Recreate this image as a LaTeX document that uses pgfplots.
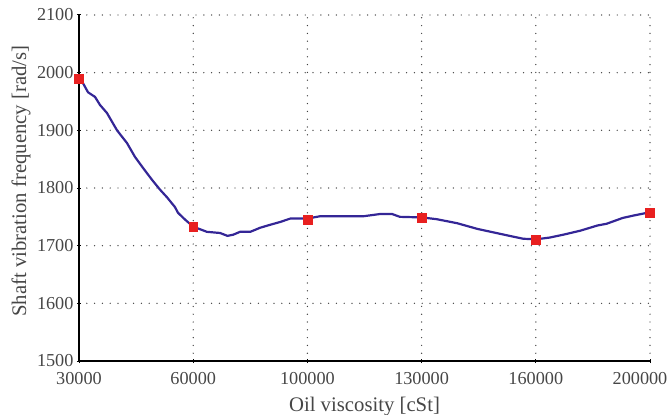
\documentclass[border=0pt]{standalone}
\usepackage{pgfplots}
\pgfplotsset{compat=1.18}
\usepackage{fontspec}
\setmainfont{Liberation Serif}
\definecolor{lineblue}{RGB}{52,38,150}
\definecolor{mred}{RGB}{232,32,32}
\definecolor{txt}{RGB}{70,70,70}
\begin{document}
\begin{tikzpicture}
\begin{axis}[
  scale only axis,
  width=571bp, height=346bp,
  xmin=0, xmax=5, ymin=1500, ymax=2100,
  xtick={0,1,2,3,4,5},
  xticklabels={30000,60000,100000,130000,160000,{\kern-20bp 200000}},
  ytick={1500,1600,1700,1800,1900,2000,2100},
  axis x line*=bottom, axis y line*=left,
  axis line style={-, black, line width=1.2pt},
  tick align=center, major tick length=4bp,
  tick style={black, line width=1pt},
  grid=major,
  major grid style={black!75, line width=1.4bp, line cap=round, dash pattern=on 0bp off 7.8bp},
  /pgf/number format/assume math mode=true,
  /pgf/number format/1000 sep={},
  ticklabel style={font=\fontsize{18.3}{20}\selectfont, text=txt},
  xticklabel style={yshift=-6bp},
  label style={font=\fontsize{20.8}{22}\selectfont, text=txt},
  xlabel={Oil viscosity [cSt]},
  ylabel={Shaft vibration frequency [rad/s]},
  xlabel style={at={(axis description cs:0.5,-0.1445)}, anchor=base},
  ylabel style={at={(axis description cs:-0.1016,0.52)}, anchor=center},
  clip=false,
]
\addplot[lineblue, line width=2.2pt, no marks] coordinates {
(0,1990) (0.026,1985) (0.079,1966) (0.14,1958) (0.184,1944) (0.245,1930)
(0.333,1900) (0.42,1878) (0.49,1854) (0.56,1835) (0.64,1814) (0.71,1797)
(0.77,1784) (0.84,1767) (0.867,1757) (0.93,1745) (1.0,1733) (1.12,1724)
(1.235,1722) (1.30,1717) (1.35,1719) (1.41,1724) (1.50,1724) (1.585,1731)
(1.67,1736) (1.76,1741) (1.85,1747) (2.0,1747) (2.11,1751) (2.29,1751)
(2.49,1751) (2.64,1755) (2.74,1755) (2.81,1750) (3.0,1749) (3.13,1746)
(3.31,1739) (3.49,1729) (3.63,1723) (3.77,1717) (3.89,1712) (4.0,1711)
(4.12,1714) (4.24,1719) (4.39,1726) (4.54,1735) (4.62,1738) (4.76,1748)
(4.85,1752) (5.0,1758)
};
\addplot[only marks, mark=square*, mark size=4.4bp, mark options={fill=mred, draw=mred}] coordinates {
(0,1990) (1,1733) (2,1745) (3,1748) (4,1710) (5,1757)
};
\end{axis}
\pgfresetboundingbox
\path ([shift={(-79bp,-53bp)}]current axis.south west) rectangle ([shift={(19bp,15bp)}]current axis.north east);
\end{tikzpicture}
\end{document}
